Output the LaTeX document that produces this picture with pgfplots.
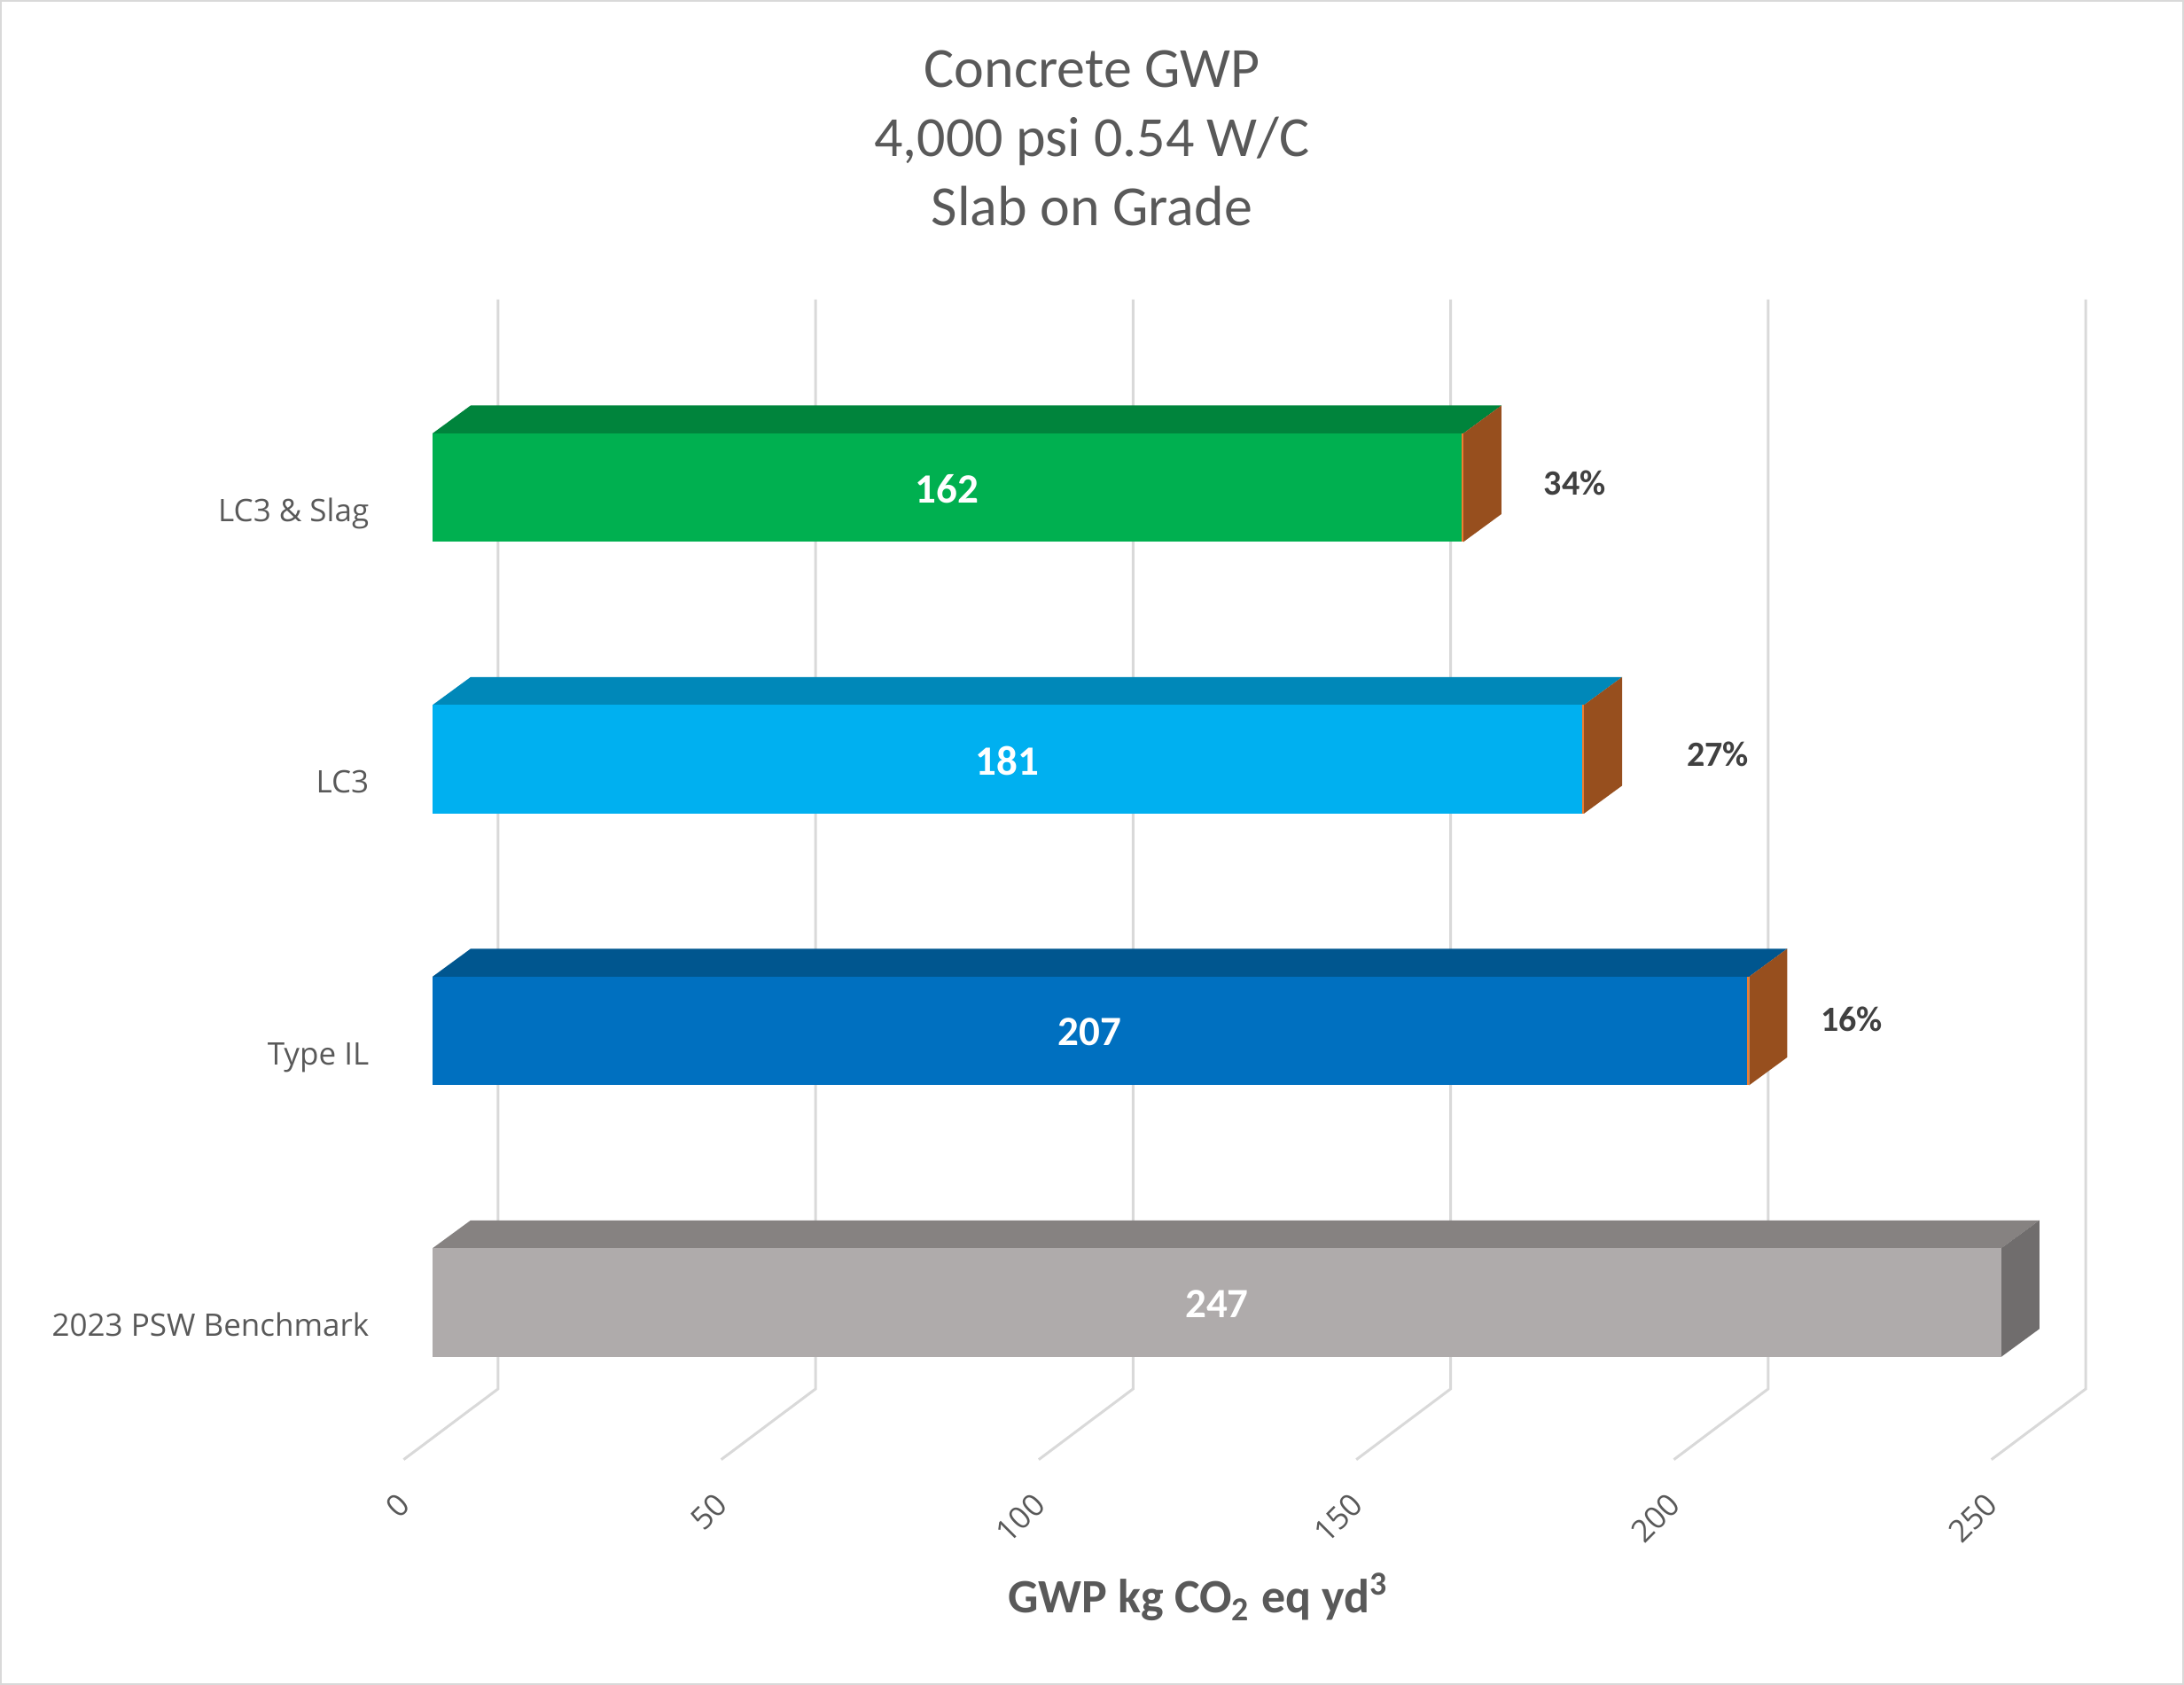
\documentclass[border=0pt]{standalone}
\usepackage{pgfplots}
\pgfplotsset{compat=1.18}
\usepackage{fontspec}
\setmainfont{Carlito}
\newfontfamily\osans{Open Sans}
\definecolor{gridcol}{HTML}{D9D9D9}
\definecolor{txt}{HTML}{595959}
\definecolor{pct}{HTML}{404040}
\definecolor{gF}{HTML}{00B050}\definecolor{gT}{HTML}{00843C}
\definecolor{cF}{HTML}{00B0F0}\definecolor{cT}{HTML}{0088B9}
\definecolor{bF}{HTML}{0070C0}\definecolor{bT}{HTML}{00568F}
\definecolor{kF}{HTML}{AFABAB}\definecolor{kT}{HTML}{868281}\definecolor{kS}{HTML}{706D6D}
\definecolor{brn}{HTML}{974F1E}\definecolor{org}{HTML}{ED7D31}
\begin{document}
\begin{tikzpicture}
\begin{axis}[hide axis, scale only axis, width=616pt, height=475.25pt,
  xmin=-68.11, xmax=275.78, ymin=0, ymax=1901, clip=false]
% back wall grid + floor lines
\pgfplotsinvokeforeach{0,50,100,150,200,250}{
  \addplot[gridcol, line width=0.75pt] coordinates {(#1-4.55,254.3) (#1+10.3,334) (#1+10.3,1563)};
}
% ---- LC3 & Slag : 162
\addplot[fill=gT, draw=none] coordinates {(0,1412) (162.3,1412) (168.3,1443.5) (6,1443.5)} -- cycle;
\addplot[fill=brn, draw=none] coordinates {(162.3,1289.5) (162.3,1412) (168.3,1443.5) (168.3,1321)} -- cycle;
\addplot[xbar, bar shift=0pt, bar width=122.5, fill=gF, draw=none] coordinates {(162,1350.75)};
\addplot[fill=org, draw=none] coordinates {(162,1289.5) (162.3,1289.5) (162.3,1412) (162,1412)} -- cycle;
% ---- LC3 : 181
\addplot[fill=cT, draw=none] coordinates {(0,1105.6) (181.3,1105.6) (187.3,1137.1) (6,1137.1)} -- cycle;
\addplot[fill=brn, draw=none] coordinates {(181.3,983.1) (181.3,1105.6) (187.3,1137.1) (187.3,1014.6)} -- cycle;
\addplot[xbar, bar shift=0pt, bar width=122.5, fill=cF, draw=none] coordinates {(181,1044.35)};
\addplot[fill=org, draw=none] coordinates {(181,983.1) (181.3,983.1) (181.3,1105.6) (181,1105.6)} -- cycle;
% ---- Type IL : 207
\addplot[fill=bT, draw=none] coordinates {(0,799.1) (207.3,799.1) (213.3,830.6) (6,830.6)} -- cycle;
\addplot[fill=brn, draw=none] coordinates {(207.3,676.6) (207.3,799.1) (213.3,830.6) (213.3,708.1)} -- cycle;
\addplot[xbar, bar shift=0pt, bar width=122.5, fill=bF, draw=none] coordinates {(207,737.85)};
\addplot[fill=org, draw=none] coordinates {(207,676.6) (207.3,676.6) (207.3,799.1) (207,799.1)} -- cycle;
% ---- 2023 PSW Benchmark : 247
\addplot[fill=kT, draw=none] coordinates {(0,492.7) (247,492.7) (253,524.2) (6,524.2)} -- cycle;
\addplot[fill=kS, draw=none] coordinates {(247,370.2) (247,492.7) (253,524.2) (253,401.7)} -- cycle;
\addplot[xbar, bar shift=0pt, bar width=122.5, fill=kF, draw=none] coordinates {(247,431.45)};
% value labels
\node[white, font=\fontsize{11.75}{14}\selectfont\bfseries, inner sep=0] at (axis cs:81,1349) {162};
\node[white, font=\fontsize{11.75}{14}\selectfont\bfseries, inner sep=0] at (axis cs:90.5,1043) {181};
\node[white, font=\fontsize{11.75}{14}\selectfont\bfseries, inner sep=0] at (axis cs:103.5,737) {207};
\node[white, font=\fontsize{11.75}{14}\selectfont\bfseries, inner sep=0] at (axis cs:123.5,430) {247};
% percentage labels
\node[pct, font=\fontsize{10}{12}\selectfont\bfseries, inner sep=0] at (axis cs:179.86,1356) {34\%};
\node[pct, font=\fontsize{10}{12}\selectfont\bfseries, inner sep=0] at (axis cs:202.37,1050.5) {27\%};
\node[pct, font=\fontsize{10}{12}\selectfont\bfseries, inner sep=0] at (axis cs:223.45,751.3) {16\%};
% category labels
\node[txt, font=\osans\fontsize{8.75}{10.5}\selectfont, anchor=base east, inner sep=0] at (axis cs:-9.91,1312.7) {LC3 \& Slag};
\node[txt, font=\osans\fontsize{8.75}{10.5}\selectfont, anchor=base east, inner sep=0] at (axis cs:-9.91,1006.3) {LC3};
\node[txt, font=\osans\fontsize{8.75}{10.5}\selectfont, anchor=base east, inner sep=0] at (axis cs:-9.91,699.9) {Type IL};
\node[txt, font=\osans\fontsize{8.75}{10.5}\selectfont, anchor=base east, inner sep=0] at (axis cs:-9.91,393.5) {2023 PSW Benchmark};
% tick labels
\pgfplotsinvokeforeach{0,50,100,150,200,250}{
  \node[txt, font=\osans\fontsize{8.75}{10.5}\selectfont, anchor=east, rotate=45, inner sep=0] at (axis cs:#1-4.4,210) {#1};
}
% axis title
\node[txt, font=\fontsize{13.5}{16}\selectfont\bfseries, anchor=base, inner sep=0] at (axis cs:120.59,81) {GWP kg CO\textsubscript{2} eq yd\textsuperscript{3}};
% chart title
\node[txt, font=\fontsize{16}{19.5}\selectfont, anchor=base, inner sep=0] at (axis cs:103.84,1802.5) {Concrete GWP};
\node[txt, font=\fontsize{16}{19.5}\selectfont, anchor=base, inner sep=0] at (axis cs:103.84,1724.5) {4,000 psi 0.54 W/C};
\node[txt, font=\fontsize{16}{19.5}\selectfont, anchor=base, inner sep=0] at (axis cs:103.84,1646.5) {Slab on Grade};
% chart border
\draw[gridcol, line width=0.5pt] (axis cs:-67.97,1) rectangle (axis cs:275.64,1900);
\end{axis}
\end{tikzpicture}
\end{document}
